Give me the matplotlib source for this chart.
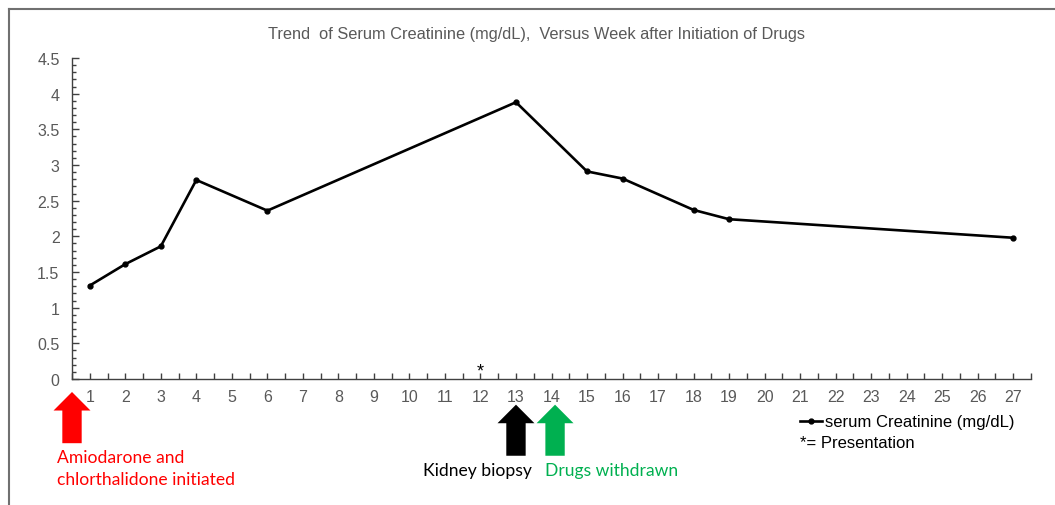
import matplotlib
matplotlib.use("Agg")
import matplotlib.pyplot as plt
from matplotlib.patches import FancyArrow
from matplotlib.lines import Line2D
import numpy as np

plt.rcParams['font.family'] = ['Liberation Sans', 'DejaVu Sans']

# data
weeks = [1, 2, 3, 4, 6, 13, 15, 16, 18, 19, 27]
creatinine = [1.31, 1.61, 1.86, 2.79, 2.36, 3.88, 2.91, 2.81, 2.37, 2.24, 1.98]
week_labels = [str(w) for w in range(1, 28)]
presentation_week = 12
event_weeks = [0.5, 13, 14.1]
event_colors = ['#ff0000', '#000000', '#00b050']
event_texts = ['Amiodarone and', 'chlorthalidone initiated', 'Kidney biopsy', 'Drugs withdrawn']

W, H = 1055, 506
fig = plt.figure(figsize=(W / 100, H / 100), dpi=100)
ax = fig.add_axes([72 / W, 1 - 380 / H, (1031 - 72) / W, (380 - 59) / H])

grey = '#595959'
ax.plot(weeks, creatinine, color='black', lw=1.9, marker='o', ms=3.5,
        label='serum Creatinine (mg/dL)')

ax.set_xlim(0.5, 27.5)
ax.set_ylim(0, 4.5)
ax.set_xticks(range(1, 28))
ax.set_xticklabels(week_labels)
ax.set_xticks(np.arange(0.5, 28, 1), minor=True)
ax.set_yticks(np.arange(0, 4.51, 0.5))
ax.set_yticklabels(['0', '0.5', '1', '1.5', '2', '2.5', '3', '3.5', '4', '4.5'])
ax.set_yticks(np.arange(0, 4.51, 0.1), minor=True)

for s in ['top', 'right']:
    ax.spines[s].set_visible(False)
for s in ['left', 'bottom']:
    ax.spines[s].set_color('#404040')
    ax.spines[s].set_linewidth(1.0)
ax.tick_params(which='both', direction='in', color='#404040', width=1.0)
ax.tick_params(axis='x', which='both', length=4, pad=7, labelsize=11.5, labelcolor=grey)
ax.tick_params(axis='y', which='major', length=5, pad=9, labelsize=11.5, labelcolor=grey)
ax.tick_params(axis='y', which='minor', length=3)

fig.text(536 / W, 1 - 34 / H, 'Trend  of Serum Creatinine (mg/dL),  Versus Week after Initiation of Drugs',
         ha='center', va='center', fontsize=11.8, color=grey)

# presentation marker
ax.text(presentation_week, 0.11, '*', ha='center', va='center', fontsize=13, color='black')

# event arrows (x in weeks, y below the axis)
for i, (wk, c) in enumerate(zip(event_weeks, event_colors)):
    y0 = -0.9 if i == 0 else -1.076
    y1 = -0.182 if i == 0 else -0.36
    ar = FancyArrow(wk, y0, 0, y1 - y0, width=0.545, head_width=1.04,
                    head_length=0.26, length_includes_head=True,
                    color=c, lw=0, clip_on=False)
    ax.add_patch(ar)

lab_font = dict(family='Lato', fontsize=12.6, va='center', ha='left', clip_on=False)
ax.text(0.08, -1.094, event_texts[0], color=event_colors[0], **lab_font)
ax.text(0.08, -1.40, event_texts[1], color=event_colors[0], **lab_font)
ax.text(10.39, -1.27, event_texts[2], color=event_colors[1], **lab_font)
ax.text(13.82, -1.27, event_texts[3], color=event_colors[2], **lab_font)

# legend
leg = ax.legend(loc='center left', bbox_to_anchor=(800 / W, 1 - 423 / H),
                bbox_transform=fig.transFigure, frameon=False,
                handlelength=1.3, handletextpad=0.2, borderpad=0, borderaxespad=0,
                prop={'size': 12})
fig.text(800 / W, 1 - 443 / H, '*= Presentation', ha='left', va='center',
         fontsize=12, color='black')

# frame around the figure
fig.add_artist(Line2D([9 / W, 9 / W], [0, 1 - 10 / H], transform=fig.transFigure,
                      color='#707070', lw=1.5))
fig.add_artist(Line2D([9 / W, 1], [1 - 10 / H, 1 - 10 / H], transform=fig.transFigure,
                      color='#707070', lw=1.5))

fig.savefig('out.png', dpi=100)
